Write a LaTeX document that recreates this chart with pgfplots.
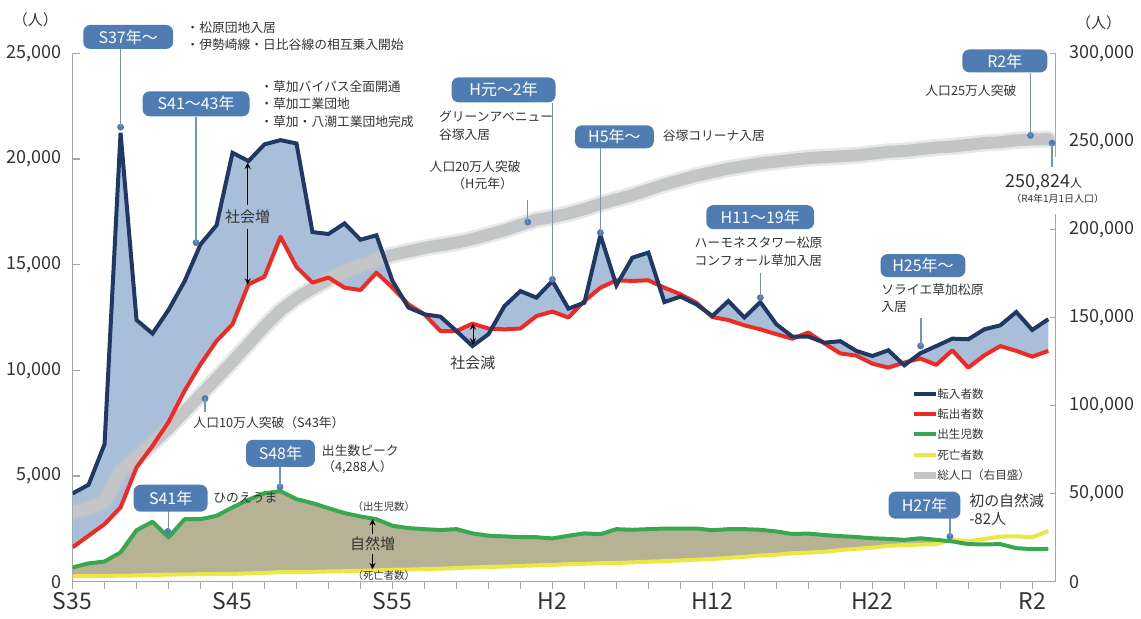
\documentclass[border=0pt]{standalone}
\usepackage{fontspec}
\setmainfont{Noto Sans CJK JP}
\usepackage{pgfplots}
\pgfplotsset{compat=1.18}
\usepackage{pgfplotstable}
\usepgfplotslibrary{fillbetween}

\definecolor{cin}{HTML}{1F3864}
\definecolor{cout}{HTML}{EE2A24}
\definecolor{cbirth}{HTML}{38A850}
\definecolor{cdeath}{HTML}{ECE646}
\definecolor{csoc}{HTML}{A9BFD9}
\definecolor{cnat}{HTML}{B7B196}
\definecolor{cpop}{HTML}{C4C5C6}
\definecolor{cbox}{HTML}{4F7DB3}
\definecolor{clead}{HTML}{6C96C6}
\definecolor{caxis}{HTML}{A6A6A6}
\definecolor{ctext}{HTML}{333333}

\pgfplotstableread{
year in out birth death pop
1960 4180 1630 680 260 39500
1961 4590 2180 870 270 41500
1962 6510 2730 960 280 45500
1963 21240 3520 1390 290 62500
1964 12380 5410 2440 300 70500
1965 11740 6430 2840 320 78500
1966 12860 7560 2100 340 87000
1967 14210 9030 2960 350 96500
1968 15960 10290 2960 360 106000
1969 16860 11390 3120 370 115500
1970 20290 12180 3520 370 125000
1971 19900 14070 3880 400 135000
1972 20690 14430 4190 420 145000
1973 20890 16320 4288 460 154000
1974 20730 14890 3910 460 161000
1975 16540 14150 3720 470 166500
1976 16450 14390 3480 490 171500
1977 16950 13910 3250 500 176000
1978 16180 13800 3090 520 179500
1979 16390 14620 2960 540 182500
1980 14230 13910 2650 570 185500
1981 12970 13120 2540 580 187500
1982 12650 12650 2490 600 189500
1983 12540 11860 2450 620 191000
1984 11860 11860 2490 650 192500
1985 11150 12210 2290 680 194500
1986 11710 11980 2180 700 197000
1987 13040 11940 2150 720 199500
1988 13750 11980 2110 750 202500
1989 13440 12570 2110 780 205500
1990 14230 12780 2050 800 207000
1991 12920 12500 2180 830 209000
1992 13200 13280 2290 850 211500
1993 16400 13910 2250 880 214500
1994 14020 14260 2490 890 217000
1995 15330 14230 2460 920 219500
1996 15570 14260 2490 950 222500
1997 13230 13910 2520 980 225500
1998 13490 13600 2520 1010 228000
1999 13120 13200 2520 1050 230500
2000 12570 12520 2440 1080 232500
2001 13280 12380 2490 1130 234500
2002 12500 12130 2490 1180 236000
2003 13230 11940 2460 1250 237500
2004 12180 11710 2380 1280 238500
2005 11600 11500 2260 1350 239500
2006 11600 11790 2280 1380 240500
2007 11310 11280 2210 1420 241000
2008 11380 10800 2160 1500 241500
2009 10920 10700 2120 1560 242000
2010 10680 10320 2060 1610 243000
2011 10950 10130 2030 1700 244000
2012 10240 10370 1985 1740 244500
2013 10810 10560 2060 1760 245500
2014 11150 10260 1985 1780 246500
2015 11500 10950 1910 1992 247000
2016 11470 10130 1780 1920 248000
2017 11940 10710 1770 2020 249000
2018 12130 11150 1780 2140 249500
2019 12760 10920 1590 2150 250500
2020 11910 10650 1545 2110 251000
2021 12420 10920 1555 2400 251300
}\data

\pgfplotsset{base/.style={width=492.2pt, height=264.7pt, scale only axis,
  xmin=1960, xmax=2021.45, at={(36.15pt,-291.35pt)}, anchor=south west,
  scaled y ticks=false, scaled x ticks=false}}

\tikzset{box/.style={fill=cbox, rounded corners=3.5pt, text=white, inner sep=0pt,
  font=\fontsize{8}{9}\selectfont},
  lead/.style={clead, line width=0.6pt},
  sm/.style={font=\fontsize{6.4}{7}\selectfont, text=ctext, inner sep=0pt},
  md/.style={font=\fontsize{7.5}{8}\selectfont, text=ctext, inner sep=0pt}}

\begin{document}
\begin{tikzpicture}
\begin{scope}[x=0.5pt,y=-0.5pt]
\useasboundingbox (0,0) rectangle (1141,619);
\end{scope}

% fills
\begin{axis}[base, ymin=0, ymax=25000, hide axis]
\addplot[name path=in, draw=none] table[x=year,y=in]{\data};
\addplot[name path=out, draw=none] table[x=year,y=out]{\data};
\addplot[fill=csoc, draw=none] fill between[of=in and out];
\addplot[name path=birth, draw=none] table[x=year,y=birth]{\data};
\addplot[name path=death, draw=none] table[x=year,y=death]{\data};
\addplot[fill=cnat, draw=none] fill between[of=birth and death, soft clip={domain=1960:2014.72}];
\end{axis}

% population, right axis
\begin{axis}[base, ymin=0, ymax=300000, axis x line=none, axis y line*=right,
  ytick={0,50000,100000,150000,200000,250000,300000},
  yticklabels={0,{50,000},{100,000},{150,000},{200,000},{250,000},{300,000}},
  y axis line style={caxis, line width=0.6pt},
  ytick style={caxis, line width=0.6pt}, ytick align=inside, major tick length=2.5pt,
  yticklabel style={font=\fontsize{9}{10}\selectfont, text=ctext, xshift=3.5pt}]
\addplot[cpop, opacity=0.4, line width=8.5pt, line join=round, line cap=round] table[x=year,y=pop]{\data};
\addplot[cpop, line width=6pt, line join=round, line cap=round] table[x=year,y=pop]{\data};
\end{axis}

% lines, left axis
\begin{axis}[base, ymin=0, ymax=25000, axis x line*=bottom, axis y line*=left,
  x axis line style={caxis, line width=0.6pt},
  y axis line style={caxis, line width=0.6pt},
  ytick={0,5000,10000,15000,20000,25000},
  yticklabels={0,{5,000},{10,000},{15,000},{20,000},{25,000}},
  ytick style={caxis, line width=0.6pt},
  xtick={1960,1970,1980,1990,2000,2010,2020},
  xticklabels={S35,S45,S55,H2,H12,H22,R2},
  minor xtick={1962,1964,...,2020},
  xtick style={caxis, line width=0.6pt},
  minor tick style={caxis, line width=0.6pt},
  xtick align=outside, ytick align=inside,
  major tick length=3.5pt, minor tick length=3.5pt,
  yticklabel style={font=\fontsize{9}{10}\selectfont, text=ctext, xshift=-2pt},
  xticklabel style={font=\fontsize{11.5}{12}\selectfont, text=ctext, yshift=1.5pt}]
\addplot[cdeath, line width=2pt, line join=round] table[x=year,y=death]{\data};
\addplot[cbirth, line width=2pt, line join=round] table[x=year,y=birth]{\data};
\addplot[cout, line width=2pt, line join=round] table[x=year,y=out]{\data};
\addplot[cin, line width=2pt, line join=miter] table[x=year,y=in]{\data};
\addplot[only marks, mark=*, mark size=1.5pt, cbox] coordinates {
(1963,21502) (1967.72,16040) (1990,14305) (1988.46,17013) (1993,16512)
(2003,13440) (2013.02,11153) (2019.89,21110) (2021.24,20747) (1968.28,8667)
(1965.96,2382) (1972.97,4490) (2014.85,2146)};
\end{axis}

\begin{scope}[x=0.5pt,y=-0.5pt]
% axis gap for label
\fill[white] (1055.3,157) rectangle (1058.2,214);
% leaders
\draw[lead] (120,49) -- (120,127.7);
\draw[lead] (196,117) -- (196,243);
\draw[lead] (552.7,103) -- (552.7,280);
\draw[lead] (600.7,148) -- (600.7,233);
\draw[lead] (761,273) -- (761,298);
\draw[lead] (922,318) -- (922,347);
\draw[lead] (1031.7,73) -- (1031.7,136);
\draw[lead] (1053.3,144) -- (1053.3,167);
\draw[lead] (528.3,200) -- (528.3,223);
\draw[lead] (205,399) -- (205,413);
\draw[lead] (168,512) -- (168,532);
\draw[lead] (280,467) -- (280,488);
\draw[lead] (951,519) -- (951,537);
% boxes
\node[box, minimum width=45pt, minimum height=12pt] at (128,37) {S37年〜};
\node[box, minimum width=53.5pt, minimum height=12.5pt] at (196,104) {S41〜43年};
\node[box, minimum width=52pt, minimum height=12.5pt] at (504,90) {H元〜2年};
\node[box, minimum width=39.5pt, minimum height=11.5pt] at (615,137) {H5年〜};
\node[box, minimum width=54pt, minimum height=12pt] at (761,217.5) {H11〜19年};
\node[box, minimum width=42.5pt, minimum height=11.5pt] at (924,266) {H25年〜};
\node[box, minimum width=42.5pt, minimum height=11.5pt] at (1006,61) {R2年};
\node[box, minimum width=37pt, minimum height=13.5pt] at (170.5,499) {S41年};
\node[box, minimum width=34.5pt, minimum height=13.5pt] at (280.5,454) {S48年};
\node[box, minimum width=36pt, minimum height=13.5pt] at (925.5,506) {H27年};
% annotation texts
\node[sm, anchor=west] at (186,28) {・松原団地入居};
\node[sm, anchor=west] at (186,45) {・伊勢崎線・日比谷線の相互乗入開始};
\node[sm, anchor=west] at (260,87) {・草加バイパス全面開通};
\node[sm, anchor=west] at (260,104) {・草加工業団地};
\node[sm, anchor=west] at (260,121.5) {・草加・八潮工業団地完成};
\node[sm, anchor=west] at (439,117) {グリーンアベニュー};
\node[sm, anchor=west] at (439,135) {谷塚入居};
\node[sm] at (475.5,167) {人口20万人突破};
\node[sm] at (483,184) {（H元年）};
\node[sm, anchor=west] at (663,136) {谷塚コリーナ入居};
\node[sm, anchor=west] at (695,243) {ハーモネスタワー松原};
\node[sm, anchor=west] at (695,261) {コンフォール草加入居};
\node[sm, anchor=west] at (882,290) {ソライエ草加松原};
\node[sm, anchor=west] at (882,307) {入居};
\node[sm] at (972,91) {人口25万人突破};
\node[text=ctext, inner sep=0pt] at (1045,183) {\fontsize{9}{10}\selectfont 250,824\fontsize{6}{7}\selectfont 人};
\node[text=ctext, inner sep=0pt, font=\fontsize{5}{6}\selectfont] at (1059,199.5) {（R4年1月1日人口）};
\node[sm, anchor=west] at (193,423) {人口10万人突破（S43年）};
\node[sm, anchor=west] at (213,499) {ひのえうま};
\node[sm, anchor=west] at (321.7,451.7) {出生数ピーク};
\node[sm, anchor=west] at (322,468) {（4,288人）};
\node[text=ctext, inner sep=0pt, font=\fontsize{5.2}{6}\selectfont] at (384,507) {（出生児数）};
\node[text=ctext, inner sep=0pt, font=\fontsize{5.2}{6}\selectfont] at (384,576) {（死亡者数）};
\node[md] at (372.7,545) {自然増};
\draw[->, >=stealth, line width=0.4pt] (372.7,535) -- (372.7,520);
\draw[->, >=stealth, line width=0.4pt] (372.7,555) -- (372.7,570);
\node[md] at (247.7,216.7) {社会増};
\draw[->, >=stealth, line width=0.4pt] (247.7,205) -- (247.7,163);
\draw[->, >=stealth, line width=0.4pt] (247.7,229) -- (247.7,285);
\node[md] at (473.3,363.3) {社会減};
\draw[<->, >=stealth, line width=0.4pt] (473.3,324) -- (473.3,345);
\node[md, anchor=west] at (970,502) {初の自然減};
\node[md, anchor=west] at (970,520) {-82人};
% unit labels
\node[md] at (35,20) {（人）};
\node[md] at (1100,23) {（人）};
% legend
\draw[cin, line width=2pt] (915,395) -- (937,395);
\node[anchor=west, inner sep=0pt, text=ctext, font=\fontsize{5.8}{6}\selectfont] at (938,395) {転入者数};
\draw[cout, line width=2pt] (915,415) -- (937,415);
\node[anchor=west, inner sep=0pt, text=ctext, font=\fontsize{5.8}{6}\selectfont] at (938,415) {転出者数};
\draw[cbirth, line width=2pt] (915,435) -- (937,435);
\node[anchor=west, inner sep=0pt, text=ctext, font=\fontsize{5.8}{6}\selectfont] at (938,435) {出生児数};
\draw[cdeath, line width=2pt] (915,456) -- (937,456);
\node[anchor=west, inner sep=0pt, text=ctext, font=\fontsize{5.8}{6}\selectfont] at (938,456) {死亡者数};
\draw[cpop, line width=3.5pt] (915,476) -- (937,476);
\node[anchor=west, inner sep=0pt, text=ctext, font=\fontsize{5.8}{6}\selectfont] at (938,476) {総人口（右目盛）};
\end{scope}
\end{tikzpicture}
\end{document}
